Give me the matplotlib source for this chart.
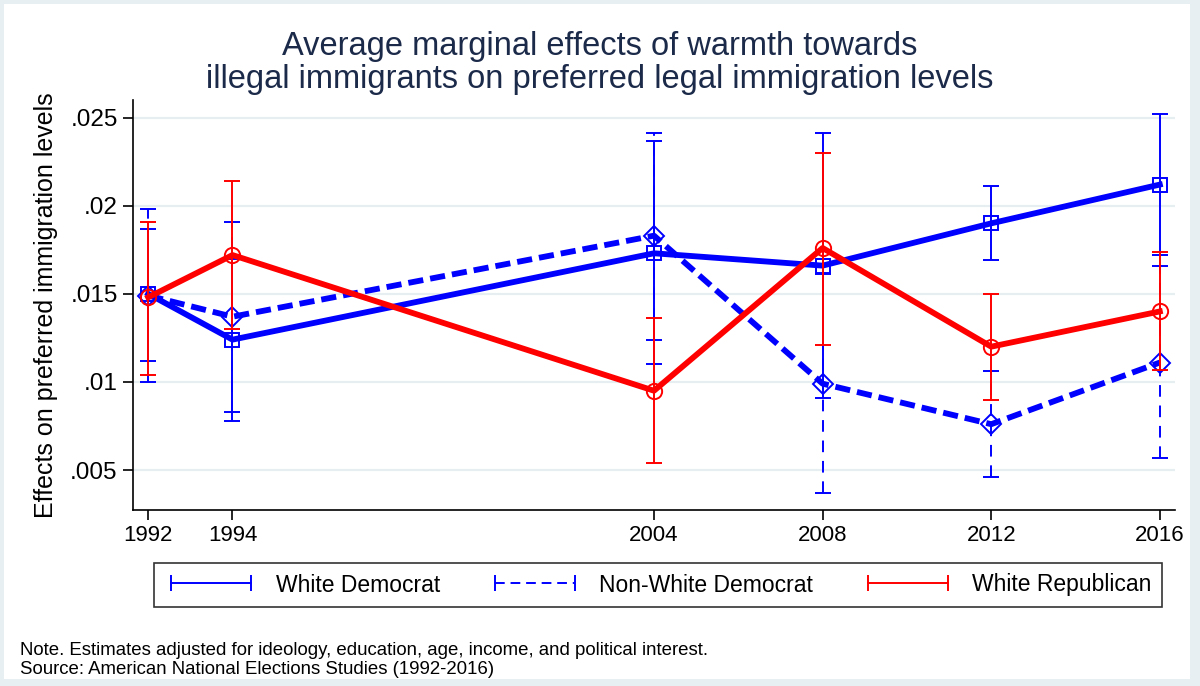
import numpy as np
import matplotlib.pyplot as plt
from matplotlib.lines import Line2D
from matplotlib.patches import Rectangle

plt.rcParams['font.family'] = ['Liberation Sans', 'DejaVu Sans']

years = [1992, 1994, 2004, 2008, 2012, 2016]

# White Democrat
wd_est = [0.0150, 0.0124, 0.0173, 0.0166, 0.0190, 0.0212]
wd_lo = [0.0112, 0.0078, 0.0110, 0.0091, 0.0169, 0.0172]
wd_hi = [0.0187, 0.0170, 0.0237, 0.0241, 0.0211, 0.0252]

# Non-White Democrat
nwd_est = [0.0149, 0.0137, 0.0183, 0.0099, 0.0076, 0.0111]
nwd_lo = [0.0100, 0.0083, 0.0124, 0.0037, 0.0046, 0.0057]
nwd_hi = [0.0198, 0.0191, 0.0241, 0.0161, 0.0106, 0.0166]

# White Republican
wr_est = [0.0148, 0.0172, 0.0095, 0.0176, 0.0120, 0.0140]
wr_lo = [0.0104, 0.0130, 0.0054, 0.0121, 0.0090, 0.0107]
wr_hi = [0.0191, 0.0214, 0.0136, 0.0230, 0.0150, 0.0174]

yticks = [0.005, 0.01, 0.015, 0.02, 0.025]
ytick_labels = ['.005', '.01', '.015', '.02', '.025']

title = ('Average marginal effects of warmth towards\n'
         'illegal immigrants on preferred legal immigration levels')
note = ('Note. Estimates adjusted for ideology, education, age, income, and political interest.\n'
        'Source: American National Elections Studies (1992-2016)')

BLUE = '#0000ff'
RED = '#ff0000'

fig = plt.figure(figsize=(12, 6.86), dpi=100, facecolor='#e8eff2')
fig.patches.append(Rectangle((4 / 1200, 7 / 686), 1186 / 1200, 675 / 686,
                             transform=fig.transFigure, facecolor='white',
                             edgecolor='none', zorder=-5))

ax = fig.add_axes([133 / 1200, 1 - 510 / 686, 1042 / 1200, 410 / 686])
ax.set_facecolor('white')

def draw_group(est, lo, hi, color, marker, msize, ls, bar_ls, z):
    est = np.array(est)
    err = [est - np.array(lo), np.array(hi) - est]
    eb = ax.errorbar(years, est, yerr=err, fmt='none', ecolor=color,
                     elinewidth=1.4, capsize=5.5, capthick=1.4, zorder=z)
    if bar_ls is not None:
        eb[2][0].set_linestyle(bar_ls)
    ax.plot(years, est, color=color, linewidth=4.2, linestyle=ls,
            marker=marker, markersize=msize, markerfacecolor='none',
            markeredgecolor=color, markeredgewidth=1.4, zorder=z + 0.5)

draw_group(wd_est, wd_lo, wd_hi, BLUE, 's', 10.5, '-', None, 3)
draw_group(nwd_est, nwd_lo, nwd_hi, BLUE, 'D', 10, (0, (2.6, 1.2)), (0, (6, 4.5)), 4)
draw_group(wr_est, wr_lo, wr_hi, RED, 'o', 11, '-', None, 5)

ax.set_xlim(1991.64, 2016.36)
ax.set_ylim(0.00273, 0.0260)
ax.set_xticks(years)
ax.set_xticklabels([str(y) for y in years], fontsize=16)
ax.set_yticks(yticks)
ax.set_yticklabels(ytick_labels, fontsize=17.5)
ax.tick_params(axis='both', direction='out', length=7, width=1.2, colors='black')
ax.tick_params(axis='y', pad=4)
ax.yaxis.grid(True, color='#e6eef2', linewidth=1.6)
ax.set_axisbelow(True)
for side in ['top', 'right']:
    ax.spines[side].set_visible(False)
for side in ['left', 'bottom']:
    ax.spines[side].set_linewidth(1.2)

ax.set_ylabel('Effects on preferred immigration levels', fontsize=18, labelpad=9)

fig.text(0.5, 1 - 63 / 686, title, ha='center', va='center', fontsize=23.5,
         color='#1c2a4a', linespacing=1.12)

handles = [
    Line2D([], [], color=BLUE, linewidth=1.4, linestyle='-', marker='|',
           markersize=11, markeredgewidth=1.4),
    Line2D([], [], color=BLUE, linewidth=1.4, linestyle=(0, (5, 3)), marker='|',
           markersize=11, markeredgewidth=1.4),
    Line2D([], [], color=RED, linewidth=1.4, linestyle='-', marker='|',
           markersize=11, markeredgewidth=1.4),
]
labels = ['White Democrat', 'Non-White Democrat', 'White Republican']
leg = fig.legend(handles, labels, loc='center',
                 bbox_to_anchor=(658 / 1200, 1 - 585 / 686), ncol=3,
                 fontsize=16.5, numpoints=2, handlelength=4.1, handletextpad=0.75,
                 columnspacing=2.1, frameon=True, fancybox=False,
                 edgecolor='black', borderpad=0.45)
leg.get_frame().set_linewidth(1.2)

fig.text(20 / 1200, 1 - 660 / 686, note, ha='left', va='center', fontsize=13.4,
         linespacing=1.08)

fig.savefig('out.png', dpi=100, facecolor=fig.get_facecolor())
